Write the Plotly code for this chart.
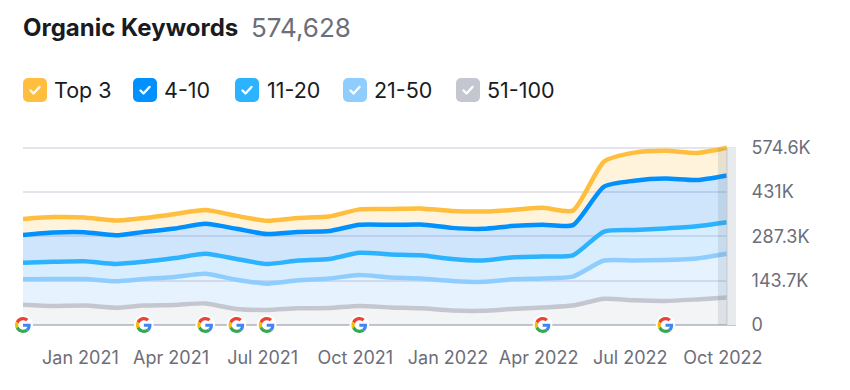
import base64
import pandas as pd
import plotly.graph_objects as go

months = ["2020-11-05","2020-12-05","2021-01-05","2021-02-05","2021-03-05","2021-04-05","2021-05-05","2021-06-05",
          "2021-07-05","2021-08-05","2021-09-05","2021-10-05","2021-11-05","2021-12-05","2022-01-05","2022-02-05",
          "2022-03-05","2022-04-05","2022-05-05","2022-06-05","2022-07-05","2022-08-05","2022-09-05","2022-10-05"]
top3 = [344,350,349,339,347,360,373,354,338,347,352,375,376,378,370,368,373,380,371,530,559,565,558,575]
pos_4_10 = [292,300,301,291,302,313,328,312,295,302,305,325,325,326,315,312,321,325,324,449,468,475,470,485]
pos_11_20 = [202,205,207,198,205,217,231,214,198,209,214,234,229,226,214,209,219,222,226,303,308,313,320,333]
pos_21_50 = [148,149,149,142,149,156,166,147,134,145,151,162,154,151,143,140,148,151,157,209,209,211,216,231]
pos_51_100 = [66,62,63,56,63,65,70,52,49,54,55,62,57,54,47,46,52,57,63,85,80,78,83,89]
google_updates = ["2020-11-05","2021-03-05","2021-05-05","2021-06-05","2021-07-05","2021-10-05","2022-04-05","2022-08-05"]
x_ticks = ["2021-01-01","2021-04-01","2021-07-01","2021-10-01","2022-01-01","2022-04-01","2022-07-01","2022-10-01"]
y_ticks = [0,143.7,287.3,431,574.6]
y_labels = ["0","143.7K","287.3K","431K","574.6K"]
title = "Organic Keywords"
total = "574,628"
legend_names = ["Top 3","4-10","11-20","21-50","51-100"]

W, H = 850, 390
L, R, T, B = 23, 736, 140, 325
X0, X1 = "2020-11-05", "2022-10-14"
def px(x): return (x - L) / (R - L)
def py(y): return (B - y) / (B - T)
def date_frac(d):
    return (pd.Timestamp(d) - pd.Timestamp(X0)) / (pd.Timestamp(X1) - pd.Timestamp(X0))
def uri(svg): return "data:image/svg+xml;base64," + base64.b64encode(svg.encode()).decode()

G = uri('<svg xmlns="http://www.w3.org/2000/svg" viewBox="-6 -6 60 60"><circle cx="24" cy="24" r="30" fill="#fff"/>'
 '<path fill="#EA4335" d="M24 9.5c3.54 0 6.71 1.22 9.21 3.6l6.85-6.85C35.9 2.38 30.47 0 24 0 14.62 0 6.51 5.38 2.56 13.22l7.98 6.19C12.43 13.72 17.74 9.5 24 9.5z"/>'
 '<path fill="#4285F4" d="M46.98 24.55c0-1.57-.15-3.09-.38-4.55H24v9.02h12.94c-.58 2.96-2.26 5.48-4.78 7.18l7.73 6c4.51-4.18 7.09-10.36 7.09-17.65z"/>'
 '<path fill="#FBBC05" d="M10.53 28.59c-.5-1.45-.78-2.99-.78-4.59s.27-3.14.78-4.59l-7.98-6.19C.92 16.46 0 20.12 0 24c0 3.88.92 7.54 2.56 10.78l7.97-6.19z"/>'
 '<path fill="#34A853" d="M24 48c6.48 0 11.93-2.13 16.08-5.81l-7.73-6c-2.15 1.45-4.92 2.3-8.35 2.3-6.26 0-11.57-4.22-13.47-9.91l-7.98 6.19C6.51 42.62 14.62 48 24 48z"/></svg>')
def check(c):
    return uri(f'<svg xmlns="http://www.w3.org/2000/svg" viewBox="0 0 24 24"><rect width="24" height="24" rx="5" fill="{c}"/>'
               '<path d="M7.5 12.5l3 3 6-6.5" fill="none" stroke="#fff" stroke-width="2.4" stroke-linecap="round" stroke-linejoin="round"/></svg>')

series = [
    ("51-100", pos_51_100, "#c4c7cf", "rgba(120,130,150,0.09)", "tozeroy"),
    ("21-50", pos_21_50, "#8fcdff", "rgba(60,165,255,0.13)", "tonexty"),
    ("11-20", pos_11_20, "#2bb3ff", "rgba(40,160,255,0.18)", "tonexty"),
    ("4-10", pos_4_10, "#0091ff", "rgba(0,115,235,0.19)", "tonexty"),
    ("Top 3", top3, "#ffbe3d", "rgba(255,190,70,0.19)", "tonexty"),
]
fig = go.Figure()
for name, vals, col, fc, fill in series:
    fig.add_trace(go.Scatter(x=months, y=vals, name=name, mode="lines", fill=fill, fillcolor=fc,
                             line=dict(color=col, width=4.5, shape="spline", smoothing=0.6), hoverinfo="skip"))

images = [dict(source=G, xref="paper", yref="paper", x=date_frac(d), y=0, sizex=20/(R-L), sizey=20/(B-T),
               xanchor="center", yanchor="middle", layer="above", sizing="contain") for d in google_updates]
legend_items = [(23,52,"#ffbe3d"),(133,162,"#0091ff"),(235,265,"#2bb3ff"),(343,372,"#8fcdff"),(456,485,"#c4c7cf")]
annotations = [
    dict(text=f"<b>{title}</b>", x=px(21), y=py(27), font=dict(size=24, color="#191b23", family="Inter")),
    dict(text=total, x=px(249), y=py(27), font=dict(size=26, color="#6c6e79", family="Inter")),
]
for name, (bx, tx, c) in zip(legend_names, legend_items):
    images.append(dict(source=check(c), xref="paper", yref="paper", x=px(bx), y=py(90), sizex=24/(R-L), sizey=24/(B-T),
                       xanchor="left", yanchor="middle", layer="above"))
    annotations.append(dict(text=name, x=px(tx), y=py(90), font=dict(size=21.5, color="#191b23", family="Inter")))
for a in annotations:
    a.update(xref="paper", yref="paper", xanchor="left", yanchor="middle", showarrow=False)

fig.update_layout(
    width=W, height=H, autosize=False, paper_bgcolor="#fff", plot_bgcolor="#fff", showlegend=False,
    margin=dict(l=L, r=W-R, t=T, b=H-B, pad=0), images=images, annotations=annotations,
    font=dict(family="Inter", size=18, color="#6c6e79"),
    xaxis=dict(type="date", range=[X0, X1], tickvals=x_ticks, tickformat="%b %Y",
               showgrid=False, zeroline=False, showline=False, ticks="outside", ticklen=16, tickcolor="rgba(0,0,0,0)",
               tickfont=dict(size=18, color="#6c6e79")),
    yaxis=dict(range=[0, 600], side="right", tickvals=y_ticks, ticktext=y_labels, gridcolor="#e4e4ec", gridwidth=1.5,
               zeroline=True, zerolinecolor="#c4c6d0", zerolinewidth=1.8, showline=False,
               ticks="outside", ticklen=11, tickcolor="rgba(0,0,0,0)", tickfont=dict(size=18, color="#6c6e79")),
    shapes=[
        dict(type="rect", xref="x", yref="y", x0="2022-10-05", x1=X1, y0=0, y1=574.6, fillcolor="#fff", line_width=0, layer="between"),
        dict(type="rect", xref="x", yref="y", x0="2022-09-26", x1=X1, y0=0, y1=574.6, fillcolor="rgba(90,115,125,0.14)", line_width=0, layer="above"),
        dict(type="line", xref="x", yref="y", x0="2022-10-05", x1="2022-10-05", y0=0, y1=574.6, line=dict(color="#c4c6d0", width=1), layer="above"),
    ],
)
fig.write_html("out.html", config=dict(displayModeBar=False), post_script="document.body.style.margin='0';")
